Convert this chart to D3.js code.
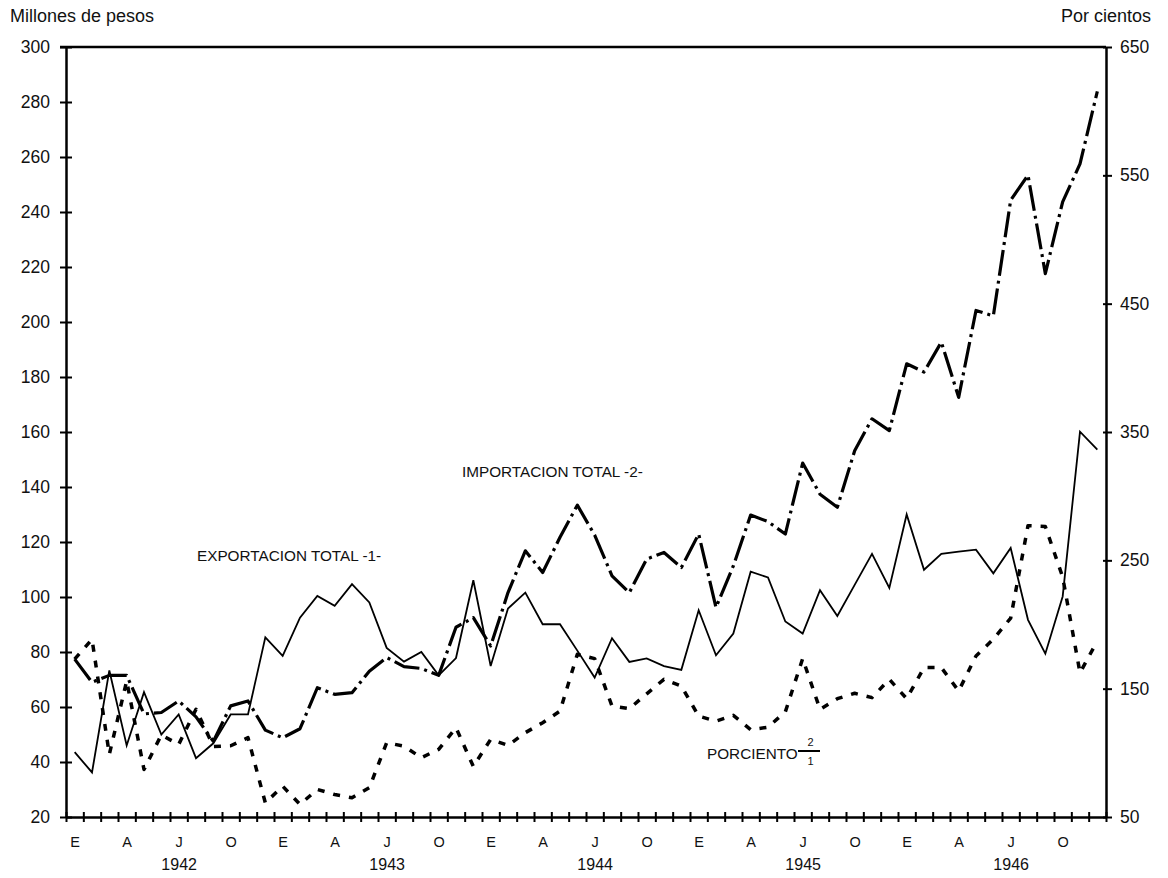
<!DOCTYPE html>
<html>
<head>
<meta charset="utf-8">
<script src="https://cdn.jsdelivr.net/npm/d3@7"></script>
<style>
  html, body { margin: 0; padding: 0; background: #fff; }
  svg { display: block; }
  text { font-family: "Liberation Sans", Arial, Helvetica, sans-serif; fill: #111; }
</style>
</head>
<body>
<svg id="chart" width="1168" height="878"></svg>
<script>
// ---- Data (monthly, Jan 1942 - Dec 1946) ----
const monthLabels = ["E", "A", "J", "O"];          // Enero, Abril, Julio, Octubre
const years = ["1942", "1943", "1944", "1945", "1946"];
const leftTicks = [20, 40, 60, 80, 100, 120, 140, 160, 180, 200, 220, 240, 260, 280, 300];
const rightTicks = [50, 150, 250, 350, 450, 550, 650];

// Exportación total (millones de pesos)
const exportacion = [
  43.6, 36.2, 73.3, 46.0, 65.4, 50.0, 57.3, 41.4, 46.8, 57.3, 57.3, 85.3,
  78.6, 92.5, 100.4, 96.8, 104.7, 98.0, 81.5, 76.5, 80.0, 71.5, 77.8, 106.1,
  74.9, 95.8, 101.6, 90.1, 90.1, 80.5, 70.7, 85.0, 76.4, 77.7, 74.9, 73.5,
  95.2, 78.8, 86.7, 109.2, 107.1, 91.1, 86.7, 102.5, 93.1, 104.4, 115.7, 103.3,
  130.0, 109.9, 115.7, 116.5, 117.2, 108.6, 117.8, 91.7, 79.4, 100.2, 160.1, 153.6
];
// Importación total (millones de pesos)
const importacion = [
  77.4, 69.0, 71.5, 71.5, 57.5, 58.0, 62.2, 56.4, 47.5, 60.4, 62.2, 51.6,
  48.8, 52.1, 67.0, 64.6, 65.2, 73.0, 78.0, 74.7, 74.0, 71.5, 89.0, 92.5,
  82.2, 101.6, 116.8, 108.9, 121.7, 133.4, 122.5, 107.7, 101.6, 113.8, 116.2, 110.7,
  122.9, 96.2, 111.3, 129.8, 127.4, 122.9, 148.7, 137.4, 132.6, 153.2, 164.8, 160.5,
  184.8, 181.8, 192.7, 172.6, 204.2, 202.2, 244.3, 253.4, 217.6, 243.7, 257.5, 283.9
];
// Porciento 2/1 (por cientos, right axis)
const porciento = [
  173.0, 188.5, 98.8, 156.0, 87.0, 114.0, 106.5, 134.0, 105.0, 105.5, 111.8, 61.0,
  74.0, 59.8, 71.5, 67.5, 65.0, 72.8, 107.9, 105.2, 96.2, 102.7, 119.6, 89.4,
  110.5, 105.8, 115.7, 123.5, 132.5, 176.8, 173.4, 136.5, 134.4, 146.0, 157.3, 152.0,
  128.6, 124.7, 129.2, 118.0, 120.0, 132.0, 173.4, 133.9, 142.2, 146.4, 143.0, 157.3,
  142.2, 166.4, 166.4, 148.2, 175.5, 188.5, 205.0, 277.0, 276.4, 237.0, 162.4, 187.2
];

// ---- Layout ----
const L = 66, R = 1106, T = 47, B = 817;
const nMonths = exportacion.length;
const FONT = '"Liberation Sans", Arial, sans-serif';

const svg = d3.select("#chart");

const x = d3.scaleLinear().domain([0, nMonths]).range([L, R]);
const yL = d3.scaleLinear().domain([20, 300]).range([B, T]);
const yR = d3.scaleLinear().domain([50, 650]).range([B, T]);

const axisStroke = 2.5;

// Left axis
const gL = svg.append("g").attr("transform", `translate(${L},0)`)
  .call(d3.axisLeft(yL).tickValues(leftTicks).tickSizeInner(6).tickSizeOuter(0).tickPadding(10));
gL.selectAll(".tick line").attr("x1", -6).attr("x2", 6).attr("stroke", "#000").attr("stroke-width", 2);
gL.select(".domain").attr("stroke", "#000").attr("stroke-width", axisStroke);
gL.selectAll(".tick text").attr("font-size", 17.5).attr("fill", "#111").attr("font-family", FONT);

// Right axis
const gR = svg.append("g").attr("transform", `translate(${R},0)`)
  .call(d3.axisRight(yR).tickValues(rightTicks).tickSizeInner(6).tickSizeOuter(0).tickPadding(8));
gR.selectAll(".tick line").attr("x1", -3).attr("x2", 6).attr("stroke", "#000").attr("stroke-width", 2);
gR.select(".domain").attr("stroke", "#000").attr("stroke-width", axisStroke);
gR.selectAll(".tick text").attr("font-size", 17.5).attr("fill", "#111").attr("font-family", FONT);

// Top border
svg.append("line").attr("x1", L - 6).attr("x2", R).attr("y1", T).attr("y2", T)
  .attr("stroke", "#000").attr("stroke-width", axisStroke);

// Bottom axis: month boundary ticks
const gB = svg.append("g").attr("transform", `translate(0,${B})`)
  .call(d3.axisBottom(x).tickValues(d3.range(0, nMonths + 1)).tickSizeInner(5).tickSizeOuter(0).tickFormat(""));
gB.selectAll(".tick line").attr("y1", -5).attr("y2", 5).attr("stroke", "#000").attr("stroke-width", 2);
gB.select(".domain").attr("stroke", "#000").attr("stroke-width", axisStroke);

// Month labels (centered in month)
const monthIdx = d3.range(0, nMonths).filter(i => i % 3 === 0);
const gM = svg.append("g").attr("transform", `translate(0,${B})`)
  .call(d3.axisBottom(x).tickValues(monthIdx.map(i => i + 0.5)).tickSize(0).tickPadding(20)
    .tickFormat(d => monthLabels[((d - 0.5) / 3) % 4]));
gM.select(".domain").remove();
gM.selectAll(".tick text").attr("font-size", 14.5).attr("fill", "#111").attr("font-family", FONT);

// Year labels (centered under J)
const gY = svg.append("g").attr("transform", `translate(0,${B})`)
  .call(d3.axisBottom(x).tickValues(years.map((y, k) => k * 12 + 6.5)).tickSize(0).tickPadding(42)
    .tickFormat((d, k) => years[k]));
gY.select(".domain").remove();
gY.selectAll(".tick text").attr("font-size", 16).attr("fill", "#111").attr("font-family", FONT);

// Axis titles
svg.append("text").attr("x", 10).attr("y", 22).attr("font-size", 18).text("Millones de pesos");
svg.append("text").attr("x", 1061).attr("y", 22).attr("font-size", 18).text("Por cientos");

// ---- Lines ----
const lineL = d3.line().x((d, i) => x(i + 0.5)).y(d => yL(d));
const lineR = d3.line().x((d, i) => x(i + 0.5)).y(d => yR(d));

svg.append("path").datum(porciento).attr("d", lineR)
  .attr("fill", "none").attr("stroke", "#000").attr("stroke-width", 3.5)
  .attr("stroke-dasharray", "7,9").attr("stroke-linejoin", "round");

svg.append("path").datum(importacion).attr("d", lineL)
  .attr("fill", "none").attr("stroke", "#000").attr("stroke-width", 3.2)
  .attr("stroke-dasharray", "26,5,3,5").attr("stroke-linejoin", "round");

svg.append("path").datum(exportacion).attr("d", lineL)
  .attr("fill", "none").attr("stroke", "#000").attr("stroke-width", 1.8)
  .attr("stroke-linejoin", "miter");

// ---- Series labels ----
svg.append("text").attr("x", 197).attr("y", 561).attr("font-size", 15.3).text("EXPORTACION TOTAL -1-");
svg.append("text").attr("x", 462).attr("y", 477).attr("font-size", 15.3).text("IMPORTACION TOTAL -2-");
svg.append("text").attr("x", 707).attr("y", 759).attr("font-size", 15.3).text("PORCIENTO");
svg.append("line").attr("x1", 798).attr("x2", 820).attr("y1", 751).attr("y2", 751)
  .attr("stroke", "#000").attr("stroke-width", 2);
svg.append("text").attr("x", 810.5).attr("y", 746).attr("font-size", 11).attr("text-anchor", "middle").text("2");
svg.append("text").attr("x", 810.5).attr("y", 765).attr("font-size", 11).attr("text-anchor", "middle").text("1");
</script>
</body>
</html>
